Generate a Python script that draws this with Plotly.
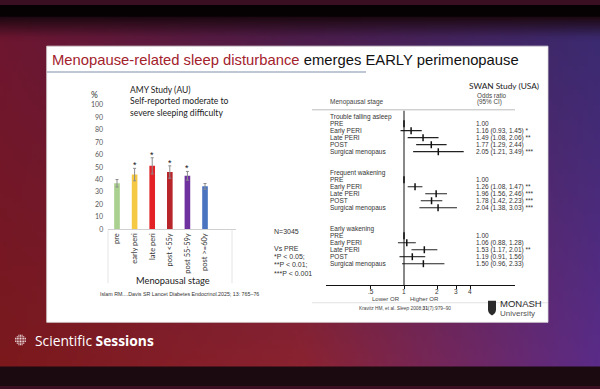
import zlib, struct, base64, math
import plotly.graph_objects as go

W, H = 600, 389

# ---------------- data ----------------
amy_stages = ["pre", "early peri", "late peri", "post <55y", "post 55-59y", "post >=60y"]
amy_pct = [37, 44, 51, 46, 43, 34.5]
amy_err = [3, 5, 6.5, 5, 3.5, 2.3]
amy_sig = ["", "*", "*", "*", "*", ""]
amy_colors = ["#a9d08e", "#f6c945", "#e32227", "#b8262b", "#7031a0", "#4a74c0"]

swan_groups = ["Trouble falling asleep", "Frequent wakening", "Early wakening"]
swan_stages = ["PRE", "Early PERI", "Late PERI", "POST", "Surgical menopaus"]
trouble_or = [1.00, 1.16, 1.49, 1.77, 2.05]
trouble_lo = [None, 0.93, 1.08, 1.29, 1.21]
trouble_hi = [None, 1.45, 2.06, 2.44, 3.49]
trouble_sig = ["", "*", "**", "", "***"]
frequent_or = [1.00, 1.26, 1.96, 1.78, 2.04]
frequent_lo = [None, 1.08, 1.56, 1.42, 1.38]
frequent_hi = [None, 1.47, 2.46, 2.23, 3.03]
frequent_sig = ["", "**", "***", "***", "***"]
early_or = [1.00, 1.06, 1.53, 1.19, 1.50]
early_lo = [None, 0.88, 1.17, 0.91, 0.96]
early_hi = [None, 1.28, 2.01, 1.56, 2.33]
early_sig = ["", "", "**", "", ""]
or_ticks = [0.5, 1, 2, 3, 4]
or_ticktext = [".5", "1", "2", "3", "4"]

# ---------------- helpers ----------------
def px(x):
    return x / W

def py(y):
    return 1 - y / H

def hex2rgb(h):
    h = h.lstrip("#")
    return [int(h[i:i + 2], 16) for i in (0, 2, 4)]

def mix(a, b, t):
    return [a[k] + (b[k] - a[k]) * t for k in range(3)]

def png_uri(w, h, rows):
    raw = b"".join(b"\x00" + bytes(int(max(0, min(255, round(c)))) for p in row for c in p) for row in rows)
    def chunk(t, d):
        return struct.pack(">I", len(d)) + t + d + struct.pack(">I", zlib.crc32(t + d) & 0xffffffff)
    png = (b"\x89PNG\r\n\x1a\n" + chunk(b"IHDR", struct.pack(">IIBBBBB", w, h, 8, 2, 0, 0, 0))
           + chunk(b"IDAT", zlib.compress(raw)) + chunk(b"IEND", b""))
    return "data:image/png;base64," + base64.b64encode(png).decode()

# background gradient (decoration)
top_stops = [hex2rgb(c) for c in ("#6e1630", "#4d1d4c", "#3b2a70")]
bot_stops = [hex2rgb(c) for c in ("#7a181c", "#8a2230", "#5a2b88")]
dark = hex2rgb("#1c0810")
iw, ih = 120, 78
rows = []
for j in range(ih):
    yy = (j + 0.5) * H / ih
    ty = min(1, max(0, (yy - 34) / (365 - 34)))
    row = []
    for i in range(iw):
        xx = (i + 0.5) * W / iw
        tx = xx / W * 2
        k = min(1, int(tx))
        f = tx - k
        top = mix(top_stops[k], top_stops[k + 1], f)
        bot = mix(bot_stops[k], bot_stops[k + 1], f)
        c = mix(top, bot, ty)
        if yy < 34:
            c = mix(dark, c, max(0, (yy - 12) / 22))
        row.append(c)
    rows.append(row)
bg_uri = png_uri(iw, ih, rows)

fig = go.Figure()

# ---------------- bar chart (AMY) ----------------
fig.add_trace(go.Bar(
    x=amy_stages, y=amy_pct, width=0.32,
    marker=dict(color=amy_colors, line=dict(width=0)),
    error_y=dict(type="data", array=amy_err, color="#8c8c8c", thickness=1, width=1.5),
    xaxis="x", yaxis="y", hoverinfo="skip",
))

# ---------------- forest plot (SWAN) ----------------
groups = [
    (trouble_or, trouble_lo, trouble_hi, trouble_sig),
    (frequent_or, frequent_lo, frequent_hi, frequent_sig),
    (early_or, early_lo, early_hi, early_sig),
]
fx, fy, eplus, eminus = [], [], [], []
row_labels = []
for g, (ors, los, his, sigs) in enumerate(groups):
    base = g * 8
    row_labels.append((base, swan_groups[g], None))
    for i, st in enumerate(swan_stages):
        r = base + 1 + i
        fx.append(ors[i])
        fy.append(r)
        eplus.append(0 if his[i] is None else his[i] - ors[i])
        eminus.append(0 if los[i] is None else ors[i] - los[i])
        if los[i] is None:
            val = f"{ors[i]:.2f}"
        else:
            val = f"{ors[i]:.2f} ({los[i]:.2f}, {his[i]:.2f})"
        if sigs[i]:
            val += " " + sigs[i]
        row_labels.append((r, st, val))

fig.add_trace(go.Scatter(
    x=fx, y=fy, mode="markers", xaxis="x2", yaxis="y2",
    marker=dict(symbol="line-ns", size=5, line=dict(width=1.5, color="#111")),
    error_x=dict(type="data", symmetric=False, array=eplus, arrayminus=eminus,
                 color="#222", thickness=1.1, width=0),
    hoverinfo="skip",
))

sans = "Liberation Sans, Arial, sans-serif"
cal = "Lato, Carlito, sans-serif"

annotations = []
def ann(x, y, text, size, color="#222", family=sans, xanchor="left", yanchor="middle", xref="paper", yref="paper", **kw):
    annotations.append(dict(x=x, y=y, xref=xref, yref=yref, text=text, showarrow=False,
                            xanchor=xanchor, yanchor=yanchor,
                            font=dict(size=size, color=color, family=family), **kw))

# title
ann(px(50), py(56),
    '<span style="color:#a3222c">Menopause-related sleep disturbance</span> emerges EARLY perimenopause',
    14.8, color="#111")

# AMY texts
ann(px(94), py(92), "%", 8.5, color="#333", family=cal, xanchor="center")
ann(px(128), py(87), "AMY Study (AU)", 8.5, color="#222", family=cal)
ann(px(128), py(98.5), "Self-reported moderate to", 8.6, color="#222", family=cal)
ann(px(128), py(110.5), "severe sleeping difficulty", 8.6, color="#222", family=cal)
ann(px(173), py(281), "Menopausal stage", 9.3, color="#222", family=cal, xanchor="center")
for s, v, e, sg in zip(amy_stages, amy_pct, amy_err, amy_sig):
    if sg:
        ann(s, v + e + 2.6, sg, 9, color="#111", xanchor="center", xref="x", yref="y")
ann(px(272), py(231), "N=3045", 7, color="#333")
ann(px(272), py(248.7), "Vs PRE", 7, color="#333")
ann(px(272), py(257), "*P &lt; 0.05;", 7, color="#333")
ann(px(272), py(265.3), "**P &lt; 0.01;", 7, color="#333")
ann(px(272), py(274), "***P &lt; 0.001", 7, color="#333")
ann(px(98), py(295), "Islam RM....Davis SR Lancet Diabetes Endocrinol.2025; 13: 765\u201376", 5.3, color="#333")

# SWAN texts
ann(px(467), py(83), "SWAN Study (USA)", 8.3, color="#222", family=cal)
ann(px(475), py(92), "Odds ratio", 6.3, color="#444")
ann(px(475), py(99), "(95% CI)", 6.3, color="#444")
ann(px(328), py(99), "Menopausal stage", 6.5, color="#444")
for r, lab, val in row_labels:
    ann(px(328), r, lab, 6.5, color="#333", yref="y2")
    if val:
        ann(px(474), r, val, 6.5, color="#333", yref="y2")
# OR tick labels (log axis: annotation x is log10 of the value)
for tv, tt in zip(or_ticks, or_ticktext):
    ann(math.log10(tv), py(292.3), tt, 6.5, color="#333", xanchor="center", xref="x2")
ann(px(402), py(300.5), "Lower OR", 6, color="#444", xanchor="right")
ann(px(408), py(300.5), "Higher OR", 6, color="#444", xanchor="left")
ann(px(357), py(309.5), "Kravitz HM, et al. <i>Sleep</i> 2008;<b>31</b>(7):979\u201390", 4.8, color="#444")

# Monash
ann(px(498), py(304.5), "MONASH", 9.5, color="#2a2a2a")
ann(px(498), py(315), "University", 8, color="#555")

# Scientific Sessions
ann(px(33), py(342.5), "Scientific <b>Sessions</b>", 13.8, color="#ffffff", family="Open Sans, sans-serif")

shapes = []
def rect(x0, y0, x1, y1, fill, line=None, layer="below"):
    shapes.append(dict(type="rect", xref="paper", yref="paper", x0=px(x0), x1=px(x1), y0=py(y0), y1=py(y1),
                       fillcolor=fill, line=dict(width=0) if line is None else line, layer=layer))
def hline(x0, x1, y, color, width=1):
    shapes.append(dict(type="line", xref="paper", yref="paper", x0=px(x0), x1=px(x1), y0=py(y), y1=py(y),
                       line=dict(color=color, width=width), layer="below"))
def vline(x, y0, y1, color, width=1):
    shapes.append(dict(type="line", xref="paper", yref="paper", x0=px(x), x1=px(x), y0=py(y0), y1=py(y1),
                       line=dict(color=color, width=width), layer="below"))

rect(0, 0, 600, 12, "#060204")
rect(0, 369, 600, 389, "#1b0a10")
rect(46.7, 42, 548, 324, "#ffffff", line=dict(color="#d8d8d8", width=0.8))
hline(47, 366, 68.5, "#aab4c6", 1.5)
hline(312, 515, 107, "#bdbdbd", 1)
hline(312, 548, 304, "#e2e2e2", 1)
vline(108, 230, 284, "#e4e4e4", 1)
vline(232, 230, 284, "#e4e4e4", 1)
# reference line at OR = 1
shapes.append(dict(type="line", xref="x2", yref="y2 domain", x0=1, x1=1, y0=0, y1=1,
                   line=dict(color="#111", width=1)))
# Monash shield
shapes.append(dict(type="path", xref="paper", yref="paper",
                   path=f"M {px(488)},{py(302)} L {px(496)},{py(302)} L {px(496)},{py(311)} "
                        f"Q {px(496)},{py(315)} {px(492)},{py(317)} Q {px(488)},{py(315)} {px(488)},{py(311)} Z",
                   fillcolor="#2a2a2a", line=dict(width=0)))
# Scientific Sessions dotted globe icon
cx, cy = 20.5, 342
for i in range(-3, 4):
    for j in range(-3, 4):
        dx, dy = i * 1.6, j * 1.6
        if dx * dx + dy * dy <= 26:
            rect(cx + dx - 0.55, cy + dy - 0.55, cx + dx + 0.55, cy + dy + 0.55, "#f2e6e6", layer="above")

fig.update_layout(
    width=W, height=H, margin=dict(l=0, r=0, t=0, b=0),
    paper_bgcolor="#3a0f22", plot_bgcolor="rgba(0,0,0,0)",
    showlegend=False, bargap=0.6,
    images=[dict(source=bg_uri, xref="paper", yref="paper", x=0, y=1, sizex=1, sizey=1,
                 sizing="stretch", xanchor="left", yanchor="top", layer="below")],
    xaxis=dict(domain=[px(108.2), px(236)], range=[-0.5, 6.76], type="category",
               tickangle=-90, tickfont=dict(size=7.5, color="#333", family=cal),
               showline=True, linecolor="#d0d0d0", linewidth=1, ticks="", showgrid=False,
               zeroline=False, anchor="y", fixedrange=True),
    yaxis=dict(domain=[py(229), py(102)], range=[0, 100], dtick=10,
               tickfont=dict(size=7, color="#595959", family=cal),
               showline=False, showgrid=False, zeroline=False, ticks="", ticklabelstandoff=4,
               anchor="x", fixedrange=True),
    xaxis2=dict(domain=[px(326), px(515)], type="log", range=[-0.709, 1.009],
                tickvals=or_ticks, ticks="outside", ticklen=3, showticklabels=False,
                tickcolor="#111", showline=True, linecolor="#111", linewidth=1,
                showgrid=False, zeroline=False, anchor="y2", fixedrange=True),
    yaxis2=dict(domain=[py(286), py(108)], range=[24.06, -0.84], visible=False,
                anchor="x2", fixedrange=True),
    annotations=annotations, shapes=shapes,
)

fig.write_html("out.html", config={"displayModeBar": False},
               post_script="document.body.style.margin='0';")
